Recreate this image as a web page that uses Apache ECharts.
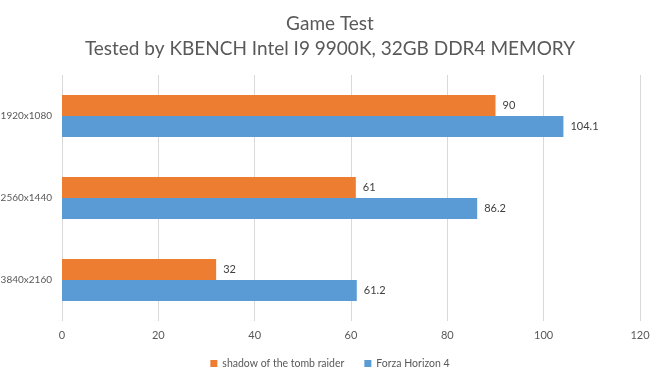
<!DOCTYPE html>
<html>
<head>
<meta charset="utf-8">
<script src="https://cdn.jsdelivr.net/npm/echarts@6/dist/echarts.min.js"></script>
<style>
  html, body { margin: 0; padding: 0; background: #fff; }
  #chart { width: 660px; height: 375px; }
</style>
</head>
<body>
<div id="chart"></div>
<script>
var resolutions = ['1920x1080', '2560x1440', '3840x2160'];
var tombRaider = [90, 61, 32];       // shadow of the tomb raider
var forza = [104.1, 86.2, 61.2];     // Forza Horizon 4
var seriesNames = ['shadow of the tomb raider', 'Forza Horizon 4'];

var font = 'Lato';

var myChart = echarts.init(document.getElementById('chart'));

var option = {
    animation: false,
    title: {
        text: 'Game Test\nTested by KBENCH Intel I9 9900K, 32GB DDR4 MEMORY',
        left: 'center',
        top: 6,
        textStyle: {
            color: '#595959',
            fontFamily: font,
            fontSize: 19,
            fontWeight: 'normal',
            lineHeight: 25
        }
    },
    legend: {
        top: 353,
        left: 'center',
        itemWidth: 7,
        itemHeight: 7,
        itemGap: 20,
        icon: 'rect',
        textStyle: { color: '#595959', fontFamily: font, fontSize: 10.5 },
        data: seriesNames
    },
    grid: {
        left: 62,
        right: 20,
        top: 75,
        bottom: 54,
        outerBoundsMode: 'none',
        containLabel: false
    },
    xAxis: {
        type: 'value',
        min: 0,
        max: 120,
        interval: 20,
        axisLine: { show: false },
        axisTick: { show: false },
        axisLabel: { color: '#595959', fontFamily: font, fontSize: 11, margin: 9 },
        splitLine: { lineStyle: { color: '#d9d9d9' } }
    },
    yAxis: {
        type: 'category',
        inverse: true,
        data: resolutions,
        axisLine: { show: false },
        axisTick: { show: false },
        axisLabel: { color: '#595959', fontFamily: font, fontSize: 10, margin: 10 }
    },
    series: [
        {
            name: seriesNames[0],
            type: 'bar',
            data: tombRaider,
            barGap: '0%',
            barCategoryGap: '49%',
            itemStyle: { color: '#ED7D31' },
            label: { show: true, position: 'right', color: '#404040', fontFamily: font, fontSize: 11, distance: 7 }
        },
        {
            name: seriesNames[1],
            type: 'bar',
            data: forza,
            barGap: '0%',
            barCategoryGap: '49%',
            itemStyle: { color: '#5B9BD5' },
            label: { show: true, position: 'right', color: '#404040', fontFamily: font, fontSize: 11, distance: 7 }
        }
    ]
};

myChart.setOption(option);
</script>
</body>
</html>
